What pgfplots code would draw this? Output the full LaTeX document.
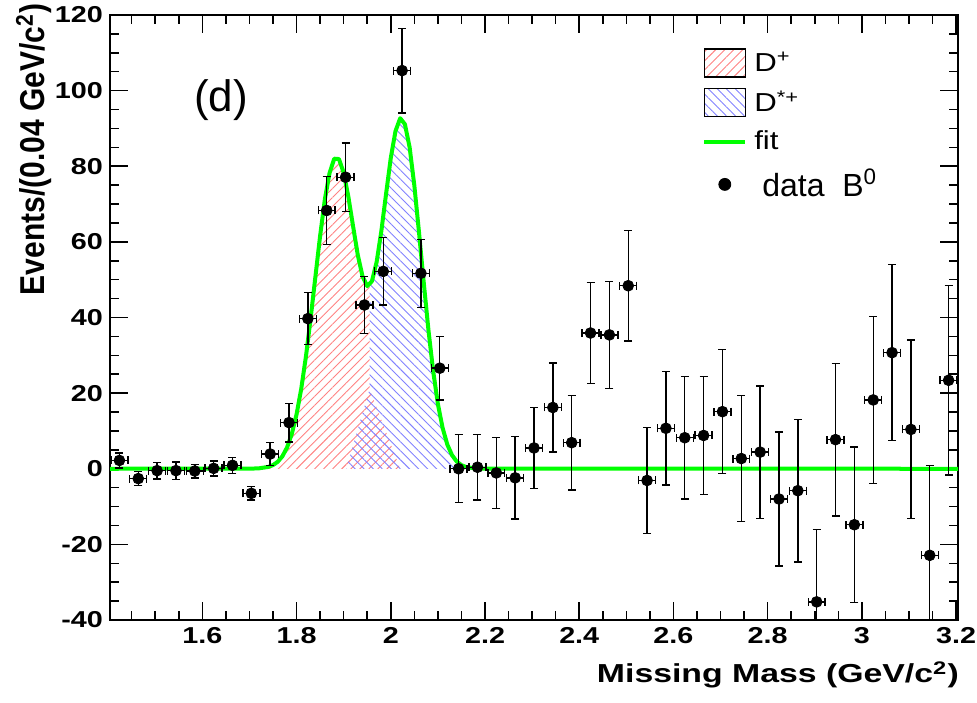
\documentclass[border=0pt]{standalone}
\usepackage{pgfplots}
\pgfplotsset{compat=1.18}
\usepackage{pgfplotstable}
\usepackage{fontspec}
\setmainfont{Liberation Sans}
\usepackage{graphicx}
\usetikzlibrary{patterns.meta}

\definecolor{rootgreen}{RGB}{0,255,0}
\definecolor{hatchred}{RGB}{255,130,130}
\definecolor{hatchblue}{RGB}{130,130,255}

\pgfplotstableread{
x y ex ey
1.424 2.2 0.018 2.0
1.464 -2.6 0.018 1.8
1.504 -0.5 0.018 2.2
1.544 -0.5 0.018 2.3
1.584 -0.6 0.018 1.8
1.624 0.1 0.018 2.0
1.664 0.9 0.018 2.1
1.704 -6.5 0.018 1.8
1.744 3.9 0.018 3.0
1.784 12.2 0.018 5.1
1.824 39.7 0.018 6.9
1.864 68.3 0.018 9.0
1.904 77.1 0.018 9.1
1.944 43.3 0.018 7.5
1.984 52.2 0.018 8.9
2.024 105.3 0.018 11.2
2.064 51.7 0.018 9.0
2.104 26.6 0.018 8.4
2.144 0.0 0.018 9.0
2.184 0.4 0.018 8.7
2.224 -1.1 0.018 9.4
2.264 -2.4 0.018 10.9
2.304 5.5 0.018 10.7
2.344 16.2 0.018 11.8
2.384 6.9 0.018 12.5
2.424 35.9 0.018 13.4
2.464 35.4 0.018 14.2
2.504 48.4 0.018 14.6
2.544 -3.1 0.018 14.0
2.584 10.7 0.018 15.0
2.624 8.2 0.018 16.2
2.664 8.8 0.018 15.6
2.704 15.1 0.018 16.4
2.744 2.7 0.018 16.7
2.784 4.4 0.018 17.5
2.824 -8.0 0.018 17.7
2.864 -5.8 0.018 18.9
2.904 -35.2 0.018 19.1
2.944 7.7 0.018 20.2
2.984 -14.8 0.018 20.6
3.024 18.2 0.018 22.1
3.064 30.7 0.018 23.3
3.104 10.4 0.018 23.6
3.144 -22.9 0.018 23.7
3.184 23.4 0.018 25.0
}\datatable

\pgfplotstableread{
x y
1.404 0
1.70 0.02
1.72 0.11
1.74 0.49
1.75 0.97
1.76 1.84
1.77 3.31
1.78 5.68
1.79 9.25
1.80 14.4
1.81 21.2
1.82 29.8
1.83 39.9
1.84 50.8
1.85 61.6
1.86 71.2
1.87 78.2
1.88 82.0
1.89 81.9
1.90 78.3
1.91 71.9
1.92 64.1
1.93 56.5
1.94 50.9
1.95 48.3
1.96 49.6
1.97 54.7
1.98 62.9
1.99 72.7
2.00 82.2
2.01 89.3
2.02 92.7
2.03 91.1
2.04 85.0
2.05 74.9
2.06 62.4
2.07 49.2
2.08 36.6
2.09 25.8
2.10 17.1
2.11 10.8
2.12 6.4
2.13 3.6
2.14 1.9
2.15 0.95
2.16 0.45
2.18 0.08
2.20 0.01
3.204 0
}\fittable

\begin{document}
\begin{tikzpicture}
\path[use as bounding box] (-55pt,-41pt) rectangle (433.5pt,310pt);
\begin{axis}[
  at={(0,0)}, anchor=south west, scale only axis,
  width=424pt, height=302.5pt,
  xmin=1.404, xmax=3.204, ymin=-40, ymax=120,
  xtick={1.6,1.8,2,2.2,2.4,2.6,2.8,3,3.2},
  minor xtick={1.45,1.5,1.55,1.65,1.7,1.75,1.85,1.9,1.95,2.05,2.1,2.15,2.25,2.3,2.35,2.45,2.5,2.55,2.65,2.7,2.75,2.85,2.9,2.95,3.05,3.1,3.15},
  ytick={-40,-20,0,20,40,60,80,100,120},
  minor y tick num=3,
  tick align=inside,
  major tick length=9pt, minor tick length=4.5pt,
  tick style={black, line width=0.75pt},
  axis line style={line width=0.75pt},
  /pgf/number format/assume math mode=true,
  xticklabel={\scalebox{1.25}[1]{\pgfmathprintnumber{\tick}}},
  yticklabel={\scalebox{1.25}[1]{\pgfmathprintnumber{\tick}}},
  ticklabel style={font=\fontsize{11.5}{13}\selectfont\bfseries},
  xlabel={\scalebox{1.3}[1]{Missing Mass (GeV/c\textsuperscript{2})}},
  xlabel style={font=\fontsize{13}{15}\selectfont\bfseries, at={(rel axis cs:1.0094,-0.104)}, anchor=base east},
  ylabel={\scalebox{1}[1.15]{Events/(0.04 GeV/c\textsuperscript{2})}},
  ylabel style={font=\fontsize{15}{17}\selectfont\bfseries, at={(rel axis cs:-0.0767,1.03)}, anchor=base east},
  legend style={at={(rel axis cs:0.698,0.9455)}, anchor=north west, draw=none, fill=none,
    inner sep=0pt, row sep=5pt, column sep=2pt, nodes={inner sep=1.5pt},
    font=\fontsize{13}{15}\selectfont},
  legend cell align=left,
]

% D+ hatched region
\addplot[forget plot, draw=none, pattern={Lines[angle=45,distance=3.2pt,line width=0.45pt]}, pattern color=hatchred]
 coordinates {(1.70,0) (1.72,0.11) (1.74,0.49) (1.75,0.97) (1.76,1.84) (1.77,3.31) (1.78,5.68) (1.79,9.25) (1.80,14.4) (1.81,21.2) (1.82,29.8) (1.83,39.9) (1.84,50.8) (1.85,61.6) (1.86,71.2) (1.87,78.2) (1.88,82.0) (1.89,81.9) (1.90,78.3) (1.91,71.9) (1.92,64.1) (1.93,56.5) (1.94,50.9) (1.95,48.3) (1.955,48.7) (1.955,21) (2.02,0)} -- cycle;

% D*+ hatched region
\addplot[forget plot, draw=none, pattern={Lines[angle=-45,distance=3.2pt,line width=0.45pt]}, pattern color=hatchblue]
 coordinates {(1.905,0) (1.955,21) (1.955,48.7) (1.96,49.6) (1.97,54.7) (1.98,62.9) (1.99,72.7) (2.00,82.2) (2.01,89.3) (2.02,92.7) (2.03,91.1) (2.04,85.0) (2.05,74.9) (2.06,62.4) (2.07,49.2) (2.08,36.6) (2.09,25.8) (2.10,17.1) (2.11,10.8) (2.12,6.4) (2.13,3.6) (2.14,1.9) (2.15,0.95) (2.16,0.45) (2.18,0.08) (2.18,0)} -- cycle;

% fit
\addplot[forget plot, rootgreen, line width=2pt, line join=round] table[x=x,y=y]{\fittable};

% data
\addplot[forget plot, only marks, mark=*, mark size=2.7pt, black,
  error bars/.cd, x dir=both, x explicit, y dir=both, y explicit,
  error bar style={line width=0.7pt, black},
  error mark options={rotate=90, line width=0.7pt, mark size=2pt, black}]
  table[x=x, y=y, x error=ex, y error=ey]{\datatable};

\node[font=\fontsize{22}{26}\selectfont] at (axis cs:1.640,97.5) {(d)};

\addlegendimage{legend image code/.code={\draw[pattern={Lines[angle=45,distance=3.2pt,line width=0.45pt]}, pattern color=hatchred, draw=black, line width=0.6pt] (0pt,-7pt) rectangle (20.5pt,7pt);}}
\addlegendentry{\scalebox{1.2}[1]{D\textsuperscript{+}}}
\addlegendimage{legend image code/.code={\draw[pattern={Lines[angle=-45,distance=3.2pt,line width=0.45pt]}, pattern color=hatchblue, draw=black, line width=0.6pt] (0pt,-7pt) rectangle (20.5pt,7pt);}}
\addlegendentry{\scalebox{1.2}[1]{D\textsuperscript{*+}}}
\addlegendimage{legend image code/.code={\path[draw=none,fill=none] (0pt,-7pt) rectangle (20.5pt,7pt); \draw[rootgreen, line width=2pt] (0pt,0pt) -- (20.5pt,0pt);}}
\addlegendentry{\scalebox{1.2}[1]{fit}}
\addlegendimage{legend image code/.code={\path[draw=none,fill=none] (0pt,-7pt) rectangle (20.5pt,7pt); \fill[black] (10.25pt,0pt) circle (3pt);}}
\addlegendentry{\hspace{4pt}{\fontsize{16}{18}\selectfont data\ \ B\textsuperscript{0}}}
\end{axis}
\end{tikzpicture}
\end{document}
